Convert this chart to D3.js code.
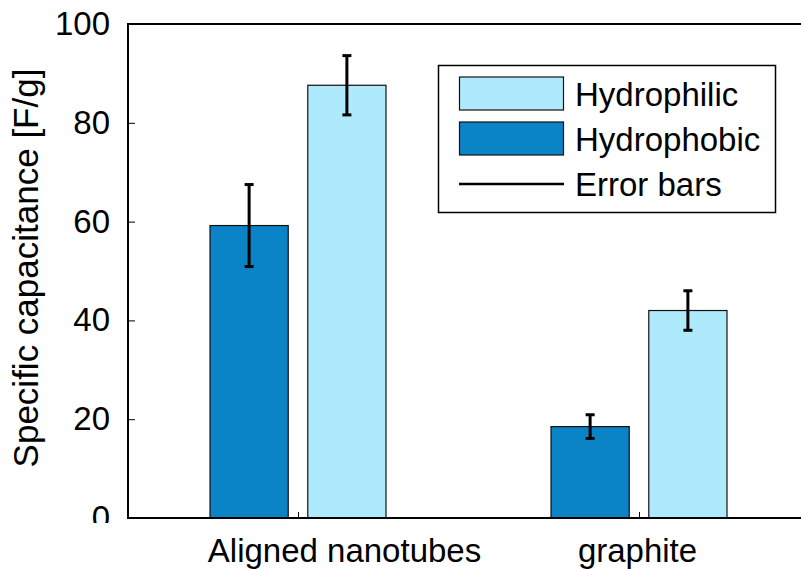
<!DOCTYPE html>
<html>
<head>
<meta charset="utf-8">
<script src="https://cdn.jsdelivr.net/npm/d3@7"></script>
<style>
  html, body { margin: 0; padding: 0; background: #fff; }
  svg { display: block; font-family: "Liberation Sans", Arial, Helvetica, sans-serif; }
</style>
</head>
<body>
<svg id="chart" width="801" height="569"></svg>
<script>
// Specific capacitance of hydrophobic / hydrophilic electrodes
const categories = ["Aligned nanotubes", "graphite"];
const seriesNames = ["Hydrophobic", "Hydrophilic"];
const hydrophobic = [59.2, 18.5];
const hydrophobicErr = [8.3, 2.4];
const hydrophilic = [87.6, 42.0];
const hydrophilicErr = [6.0, 4.0];
const yTicks = [0, 20, 40, 60, 80, 100];
const legendLabels = ["Hydrophilic", "Hydrophobic", "Error bars"];

const colors = { Hydrophobic: "#0b84c7", Hydrophilic: "#aeeafc" };
const FONT = 33;

const svg = d3.select("#chart");
const plotLeft = 128, plotRight = 810, plotTop = 24, plotBottom = 518;

const x0 = d3.scaleBand().domain(categories).range([plotLeft, plotRight]).padding(0);
const x1 = d3.scaleBand().domain(seriesNames)
  .range([x0.bandwidth() * 0.2405, x0.bandwidth() * 0.7566])
  .paddingInner(0.2).paddingOuter(0);
const y = d3.scaleLinear().domain([0, 100]).range([plotBottom, plotTop]);

const rows = [];
categories.forEach((c, i) => {
  rows.push({ cat: c, series: "Hydrophobic", value: hydrophobic[i], err: hydrophobicErr[i] });
  rows.push({ cat: c, series: "Hydrophilic", value: hydrophilic[i], err: hydrophilicErr[i] });
});

// bars
svg.append("g").selectAll("rect").data(rows).join("rect")
  .attr("x", d => x0(d.cat) + x1(d.series))
  .attr("y", d => y(d.value))
  .attr("width", x1.bandwidth())
  .attr("height", d => y(0) - y(d.value))
  .attr("fill", d => colors[d.series])
  .attr("stroke", "#111")
  .attr("stroke-width", 1.2);

// error bars
const eb = svg.append("g").attr("stroke", "#000").attr("stroke-width", 3);
rows.forEach(d => {
  const cx = x0(d.cat) + x1(d.series) + x1.bandwidth() / 2;
  eb.append("line").attr("x1", cx).attr("x2", cx)
    .attr("y1", y(d.value + d.err)).attr("y2", y(d.value - d.err));
  [d.value + d.err, d.value - d.err].forEach(v => {
    eb.append("line").attr("x1", cx - 4.5).attr("x2", cx + 4.5)
      .attr("y1", y(v)).attr("y2", y(v));
  });
});

// y axis, ticks pointing inward, labels clipped just below the frame
svg.append("clipPath").attr("id", "ylabClip")
  .append("rect").attr("x", -200).attr("y", -100).attr("width", 400).attr("height", 623);

const yAxis = svg.append("g").attr("transform", `translate(${plotLeft},0)`)
  .call(d3.axisLeft(y).tickValues(yTicks).tickSize(-7).tickPadding(18).tickFormat(d3.format("d")));
yAxis.select(".domain").remove();
yAxis.selectAll(".tick line").attr("stroke", "#000").attr("stroke-width", 1);
yAxis.attr("clip-path", "url(#ylabClip)");
yAxis.selectAll(".tick text")
  .attr("font-size", FONT).attr("font-family", "Liberation Sans, Arial, sans-serif")
  .attr("fill", "#000");

// x axis, category ticks pointing inward
const xAxis = svg.append("g").attr("transform", `translate(0,${plotBottom})`)
  .call(d3.axisBottom(x0).tickSize(-6).tickPadding(21));
xAxis.select(".domain").remove();
xAxis.selectAll(".tick line").attr("stroke", "#000").attr("stroke-width", 1);
xAxis.selectAll(".tick text")
  .attr("font-size", FONT).attr("font-family", "Liberation Sans, Arial, sans-serif")
  .attr("fill", "#000").attr("dy", "0.71em")
  .attr("dx", (d, i) => i === 0 ? 46 : -2);

// frame
svg.append("path")
  .attr("d", `M${plotLeft},${plotBottom}H${plotRight}V${plotTop}H${plotLeft}Z`)
  .attr("stroke", "#000").attr("stroke-width", 2).attr("fill", "none");

// y axis title
svg.append("text")
  .attr("transform", `translate(38,268) rotate(-90)`)
  .attr("text-anchor", "middle")
  .attr("font-size", 35)
  .text("Specific capacitance [F/g]");

// legend
const lg = svg.append("g");
lg.append("rect").attr("x", 438.5).attr("y", 65.5).attr("width", 337).attr("height", 147)
  .attr("fill", "#fff").attr("stroke", "#000").attr("stroke-width", 1.5);
const rowY = [93.5, 138.5, 184];
const legendFill = [colors.Hydrophilic, colors.Hydrophobic];
legendLabels.forEach((lab, i) => {
  if (i < 2) {
    lg.append("rect").attr("x", 459.5).attr("y", rowY[i] - 16.5).attr("width", 104).attr("height", 33)
      .attr("fill", legendFill[i]).attr("stroke", "#111").attr("stroke-width", 1.2);
  } else {
    lg.append("line").attr("x1", 459).attr("x2", 564).attr("y1", rowY[i]).attr("y2", rowY[i])
      .attr("stroke", "#000").attr("stroke-width", 2.5);
  }
  lg.append("text").attr("x", 575).attr("y", rowY[i] + 12)
    .attr("font-size", FONT).text(lab);
});
</script>
</body>
</html>
